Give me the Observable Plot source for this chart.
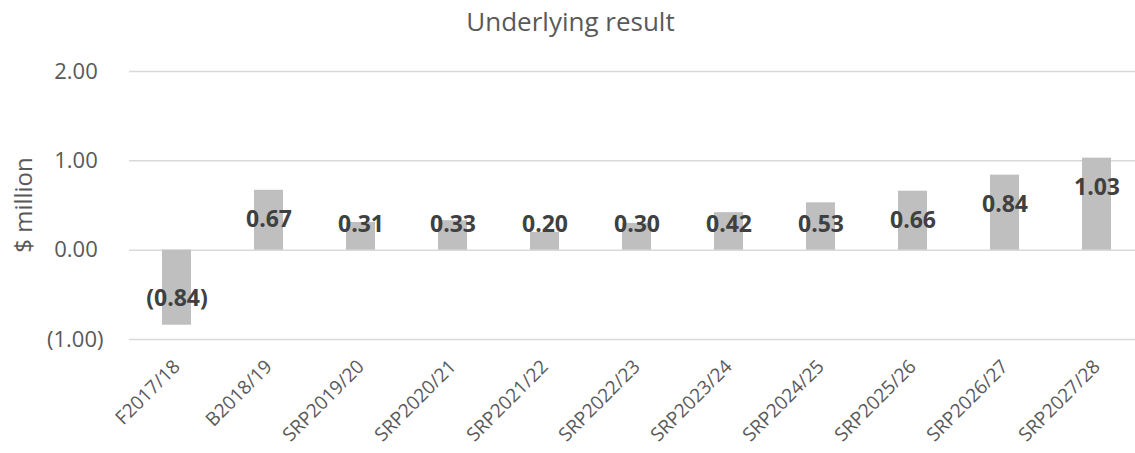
<!DOCTYPE html>
<html>
<head>
<meta charset="utf-8">
<script src="https://cdn.jsdelivr.net/npm/d3@7"></script>
<script src="https://cdn.jsdelivr.net/npm/@observablehq/plot@0.6"></script>
<style>
  body { margin: 0; background: #fff; font-family: "Open Sans", sans-serif; position: relative; overflow: hidden; }
  #title { height: 45px; line-height: 42px; text-align: center; font-size: 26px; color: #595959; padding-left: 6px; }
  #ylabel { position: absolute; left: 22px; top: 205px; transform: translate(-50%, -50%) rotate(-90deg); font-size: 24px; color: #595959; white-space: nowrap; }
  #chart svg { overflow: hidden; }
</style>
</head>
<body>
<div id="title">Underlying result</div>
<div id="ylabel">$ million</div>
<div id="chart"></div>
<script>
const categories = ["F2017/18", "B2018/19", "SRP2019/20", "SRP2020/21", "SRP2021/22", "SRP2022/23", "SRP2023/24", "SRP2024/25", "SRP2025/26", "SRP2026/27", "SRP2027/28"];
const values = [-0.84, 0.67, 0.31, 0.33, 0.20, 0.30, 0.42, 0.53, 0.66, 0.84, 1.03];
const yTicks = [-1, 0, 1, 2];

const data = categories.map((c, i) => ({cat: c, v: values[i]}));
const fmt = v => v < 0 ? `(${d3.format(".2f")(-v)})` : d3.format(".2f")(v);
const tickFmt = v => v < 0 ? fmt(v) : fmt(v) + "\u2008";
const labelY = d => d.v >= 0 ? Math.max(d.v - 0.33, 0.29) : Math.min(d.v + 0.3, -0.29);

const chart = Plot.plot({
  width: 1135,
  height: 408,
  marginTop: 26,
  marginBottom: 114,
  marginLeft: 129,
  marginRight: -8,
  style: {fontFamily: "Open Sans, sans-serif", color: "#595959", background: "#fff"},
  x: {domain: categories, paddingInner: 0.685, paddingOuter: 0.3425, label: null},
  y: {domain: [-1, 2], label: null},
  marks: [
    Plot.ruleY(yTicks, {stroke: "#d9d9d9", strokeWidth: 1.5}),
    Plot.barY(data, {x: "cat", y: "v", fill: "#bfbfbf"}),
    Plot.text(data, {x: "cat", y: labelY, text: d => fmt(d.v), fontWeight: "bold", fontSize: 23, fill: "#404040"}),
    Plot.axisY({ticks: yTicks, tickFormat: tickFmt, tickSize: 0, tickPadding: 26, fontSize: 22, fill: "#595959", label: null}),
    Plot.axisX({tickSize: 0, tickRotate: -45, tickPadding: 24, dx: 0, fontSize: 19, fill: "#595959", label: null})
  ]
});
document.getElementById("chart").appendChild(chart);
</script>
</body>
</html>
